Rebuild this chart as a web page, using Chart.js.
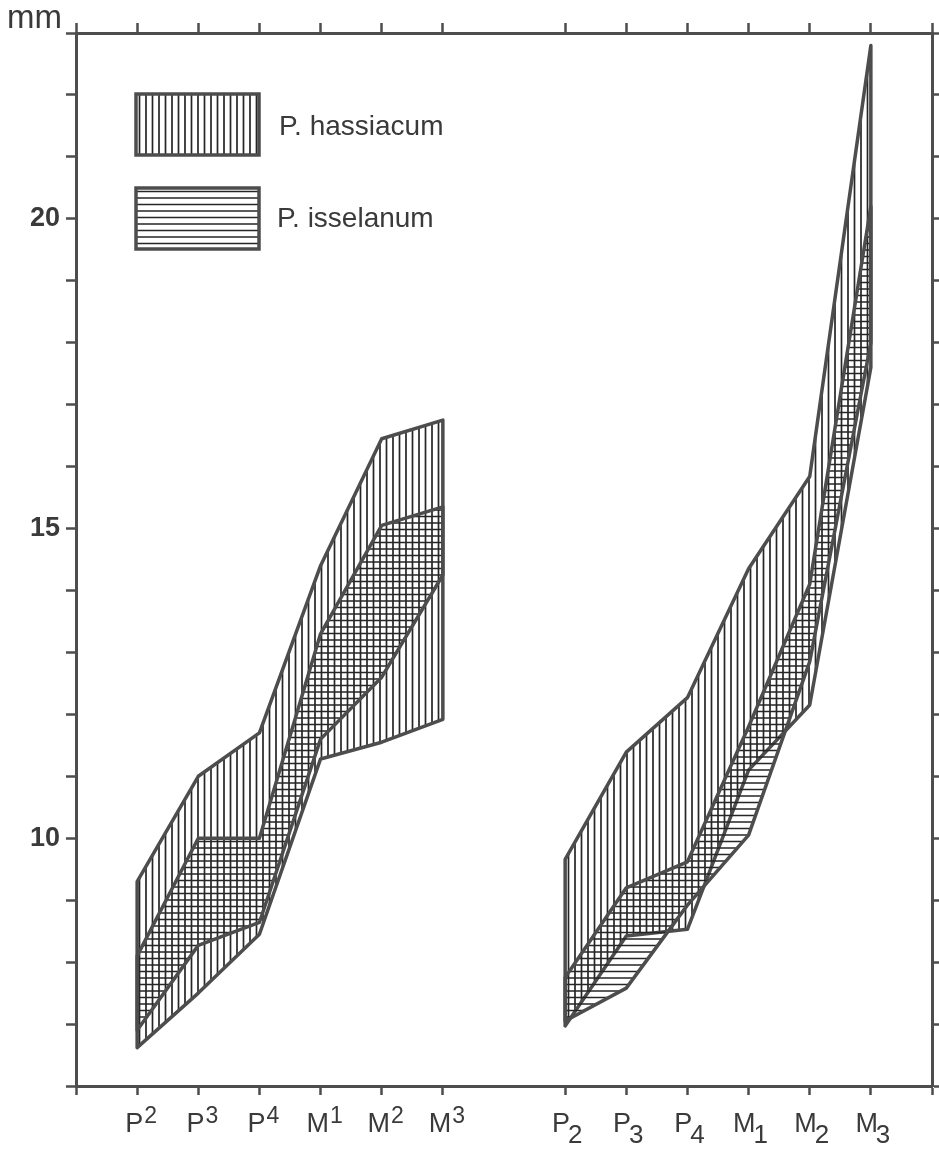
<!DOCTYPE html>
<html><head><meta charset="utf-8">
<script src="https://cdn.jsdelivr.net/npm/chart.js@4/dist/chart.umd.min.js"></script>
<style>html,body{margin:0;padding:0;background:#fff;}</style>
</head><body>
<canvas id="c" width="939" height="1151"></canvas>
<script>
// ---- data (mm) ----
const upperTeethLetters = ['P','P','P','M','M','M'];
const upperTeethDigits  = ['2','3','4','1','2','3'];
const lowerTeethLetters = ['P','P','P','M','M','M'];
const lowerTeethDigits  = ['2','3','4','1','2','3'];
const upperPos = [1,2,3,4,5,6];
const lowerPos = [8,9,10,11,12,13];
const yTickLabels = [10,15,20];
const legendLabels = ['P. hassiacum','P. isselanum'];

// upper dentition (left group)
const hassUpperMaxL = [9.3, 11.0, 11.7, 14.4, 16.45, 16.75];
const hassUpperMinL = [6.62, 7.5, 8.45, 11.28, 11.55, 11.92];
const issUpperMaxL  = [8.1, 10.0, 10.0, 13.3, 15.05, 15.35];
const issUpperMinL  = [6.9, 8.27, 8.64, 11.6, 12.6, 14.25];
// lower dentition (right group)
const hassLowerMaxR = [9.66, 11.39, 12.27, 14.35, 15.84, 22.8];
const hassLowerMinR = [6.97, 8.42, 8.53, 11.1, 12.15, 17.6];
const issLowerMaxR  = [7.75, 9.2, 9.62, 11.8, 14.1, 20.2];
const issLowerMinR  = [7.05, 7.58, 8.92, 10.05, 12.85, 18.0];

const INK = '#4d4d4d';
const TXT = '#3a3a3a';
const FONT = '"Liberation Sans", Arial, Helvetica, sans-serif';

function hatch(dir){
  const c = document.createElement('canvas'); c.width = 13; c.height = 13;
  const g = c.getContext('2d'); g.strokeStyle = '#262626'; g.lineWidth = 1.7;
  g.beginPath();
  if (dir === 'v') { g.moveTo(3,0); g.lineTo(3,13); g.moveTo(9.5,0); g.lineTo(9.5,13); }
  else { g.moveTo(0,3); g.lineTo(13,3); g.moveTo(0,9.5); g.lineTo(13,9.5); }
  g.stroke();
  return g.createPattern(c, 'repeat');
}
const vPat = hatch('v');
const hPat = hatch('h');

function band(pos, hi, lo){
  const pts = pos.map((x,i)=>({x, y: hi[i]}));
  for (let i = pos.length-1; i >= 0; i--) pts.push({x: pos[i], y: lo[i]});
  pts.push({x: pos[0], y: hi[0]});
  return pts;
}
function ds(label, data, pat){
  return { label, data, fill: 'shape', backgroundColor: pat, borderColor: INK,
    borderWidth: 3.5, pointRadius: 0, tension: 0, borderJoinStyle: 'round', borderCapStyle: 'round' };
}

const textPlugin = {
  id: 'texts',
  afterDraw(chart){
    const ctx = chart.ctx;
    const xs = chart.scales.x;
    ctx.save();
    ctx.fillStyle = TXT;
    ctx.textBaseline = 'alphabetic';
    // unit
    ctx.font = '33px ' + FONT; ctx.textAlign = 'left';
    ctx.fillText('mm', 7, 28);
    // legend
    const boxes = [{y:94, pat:vPat, ty:135, tx:279},{y:188, pat:hPat, ty:227, tx:277}];
    boxes.forEach((b,i)=>{
      ctx.fillStyle = '#fff'; ctx.fillRect(136, b.y, 123, 61);
      ctx.fillStyle = b.pat; ctx.fillRect(136, b.y, 123, 61);
      ctx.strokeStyle = INK; ctx.lineWidth = 3.5; ctx.strokeRect(136, b.y, 123, 61);
      ctx.fillStyle = TXT; ctx.font = '28px ' + FONT;
      ctx.fillText(legendLabels[i], b.tx, b.ty);
    });
    // tooth labels
    const base = 1132;
    function lab(x, L, D, sup){
      ctx.font = '27px ' + FONT; const wL = ctx.measureText(L).width;
      const dFont = sup ? '23px ' + FONT : '26px ' + FONT;
      ctx.font = dFont; const wD = ctx.measureText(D).width;
      const gap = sup ? 1 : -2;
      const tot = wL + gap + wD;
      const x0 = x - tot/2 + (sup ? 4 : 2);
      ctx.font = '27px ' + FONT; ctx.fillText(L, x0, base);
      ctx.font = dFont; ctx.fillText(D, x0 + wL + gap, sup ? base - 9 : base + 11);
    }
    upperPos.forEach((p,i)=> lab(xs.getPixelForValue(p), upperTeethLetters[i], upperTeethDigits[i], true));
    lowerPos.forEach((p,i)=> lab(xs.getPixelForValue(p), lowerTeethLetters[i], lowerTeethDigits[i], false));
    ctx.restore();
  }
};

const tickColor = (c) => (c.tick && c.tick.value === 7) ? 'rgba(0,0,0,0)' : INK;

new Chart(document.getElementById('c'), {
  type: 'line',
  data: { datasets: [
    ds('P. isselanum', band(upperPos, issUpperMaxL, issUpperMinL), hPat),
    ds('P. hassiacum', band(upperPos, hassUpperMaxL, hassUpperMinL), vPat),
    ds('P. isselanum', band(lowerPos, issLowerMaxR, issLowerMinR), hPat),
    ds('P. hassiacum', band(lowerPos, hassLowerMaxR, hassLowerMinR), vPat)
  ]},
  options: {
    responsive: false, animation: false, devicePixelRatio: 1,
    layout: { padding: 0 },
    plugins: { legend: { display: false }, tooltip: { enabled: false } },
    scales: {
      x: { type: 'linear', position: 'bottom', min: 0, max: 14,
        afterFit: s => { s.height = 65; },
        ticks: { stepSize: 1, autoSkip: false, callback: () => '' },
        grid: { drawOnChartArea: false, tickLength: 9, tickWidth: 2.5, tickColor },
        border: { display: true, color: INK, width: 3 } },
      xTop: { type: 'linear', position: 'top', min: 0, max: 14,
        afterFit: s => { s.height = 33; },
        ticks: { stepSize: 1, autoSkip: false, callback: () => '' },
        grid: { drawOnChartArea: false, tickLength: 10, tickWidth: 2.5, tickColor },
        border: { display: true, color: INK, width: 3 } },
      y: { type: 'linear', position: 'left', min: 6, max: 23,
        afterFit: s => { s.width = 76; },
        ticks: { stepSize: 1, autoSkip: false, padding: 6, color: TXT,
          font: { family: FONT, size: 27, weight: 'bold' },
          callback: v => yTickLabels.includes(v) ? String(v) : '' },
        grid: { drawOnChartArea: false, tickLength: 10, tickWidth: 2.5, tickColor: INK },
        border: { display: true, color: INK, width: 3 } },
      yRight: { type: 'linear', position: 'right', min: 6, max: 23,
        afterFit: s => { s.width = 7; },
        ticks: { stepSize: 1, autoSkip: false, callback: () => '' },
        grid: { drawOnChartArea: false, tickLength: 8, tickWidth: 2.5, tickColor: INK },
        border: { display: true, color: INK, width: 3 } }
    }
  },
  plugins: [textPlugin]
});
</script>
</body></html>
